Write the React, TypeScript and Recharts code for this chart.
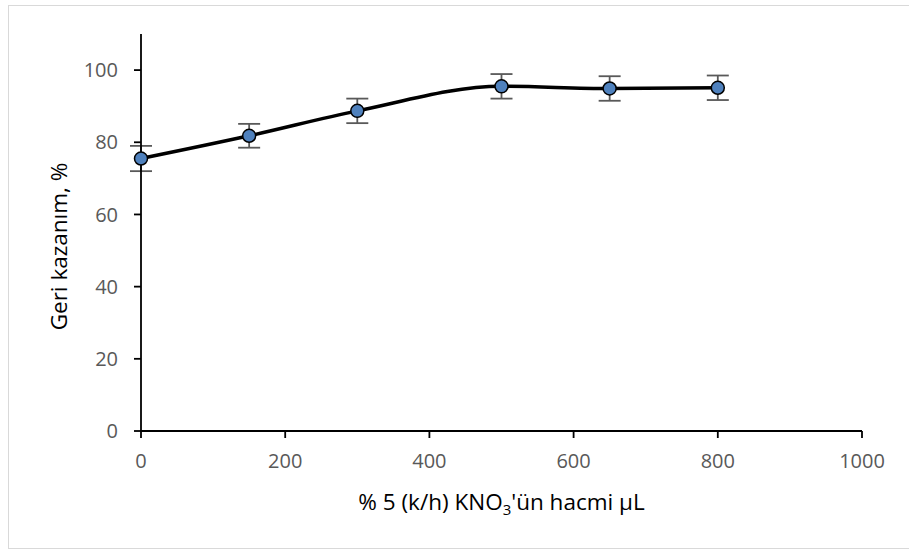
import React from "react";
import {
  LineChart,
  Line,
  XAxis,
  YAxis,
  ErrorBar,
  Label,
} from "recharts";

// KNO3 volume (µL) vs recovery (%)
const volumes = [0, 150, 300, 500, 650, 800];
const recovery = [75.5, 81.8, 88.7, 95.5, 94.9, 95.1];
const errors = [3.5, 3.3, 3.4, 3.4, 3.4, 3.4];

const xTicks = [0, 200, 400, 600, 800, 1000];
const yTicks = [0, 20, 40, 60, 80, 100];

const data = volumes.map((v, i) => ({
  vol: v,
  rec: recovery[i],
  err: errors[i],
}));

const FONT = "'Open Sans', sans-serif";

const YTitle = (props: any) => {
  const vb = props.viewBox;
  const x = vb.x + 49;
  const y = vb.y + vb.height / 2 + 14;
  return (
    <text
      x={x}
      y={y}
      transform={`rotate(-90, ${x}, ${y})`}
      textAnchor="middle"
      dominantBaseline="central"
      fontFamily={FONT}
      fontSize={22.5}
      fill="#000"
    >
      Geri kazanım, %
    </text>
  );
};

const XTitle = (props: any) => {
  const vb = props.viewBox;
  const x = vb.x + vb.width / 2;
  const y = vb.y + 79;
  return (
    <text
      x={x}
      y={y}
      textAnchor="middle"
      fontFamily={FONT}
      fontSize={22.5}
      fill="#000"
    >
      % 5 (k/h) KNO
      <tspan fontSize={15} dy={5}>3</tspan>
      <tspan dy={-5}>'ün hacmi µL</tspan>
    </text>
  );
};

export default function App() {
  return (
    <div
      style={{
        position: "absolute",
        left: 8,
        top: 5,
        width: 900,
        height: 542,
        borderTop: "1px solid #d9d9d9",
        borderLeft: "1px solid #d9d9d9",
        borderBottom: "1px solid #d9d9d9",
        background: "#fff",
      }}
    >
      <LineChart
        width={900}
        height={542}
        data={data}
        margin={{ top: 28, right: 47, left: 0, bottom: 57 }}
      >
        <XAxis
          dataKey="vol"
          type="number"
          domain={[0, 1000]}
          ticks={xTicks}
          interval={0}
          height={60}
          tickSize={7}
          tickMargin={16}
          stroke="#000"
          strokeWidth={1.8}
          tick={{ fill: "#595959", fontSize: 20, fontFamily: FONT }}
        >
          <Label content={<XTitle />} />
        </XAxis>
        <YAxis
          type="number"
          domain={[0, 110]}
          ticks={yTicks}
          interval={0}
          width={132}
          tickSize={7}
          tickMargin={16}
          stroke="#000"
          strokeWidth={1.8}
          tick={{ fill: "#595959", fontSize: 20, fontFamily: FONT }}
        >
          <Label content={<YTitle />} />
        </YAxis>
        <Line
          type="monotone"
          dataKey="rec"
          stroke="#000"
          strokeWidth={3.5}
          dot={{ r: 6.5, fill: "#4f81bd", stroke: "#000", strokeWidth: 1.5 }}
          activeDot={false}
          isAnimationActive={false}
        >
          <ErrorBar
            dataKey="err"
            direction="y"
            width={11}
            stroke="#595959"
            strokeWidth={1.8}
          />
        </Line>
      </LineChart>
    </div>
  );
}
